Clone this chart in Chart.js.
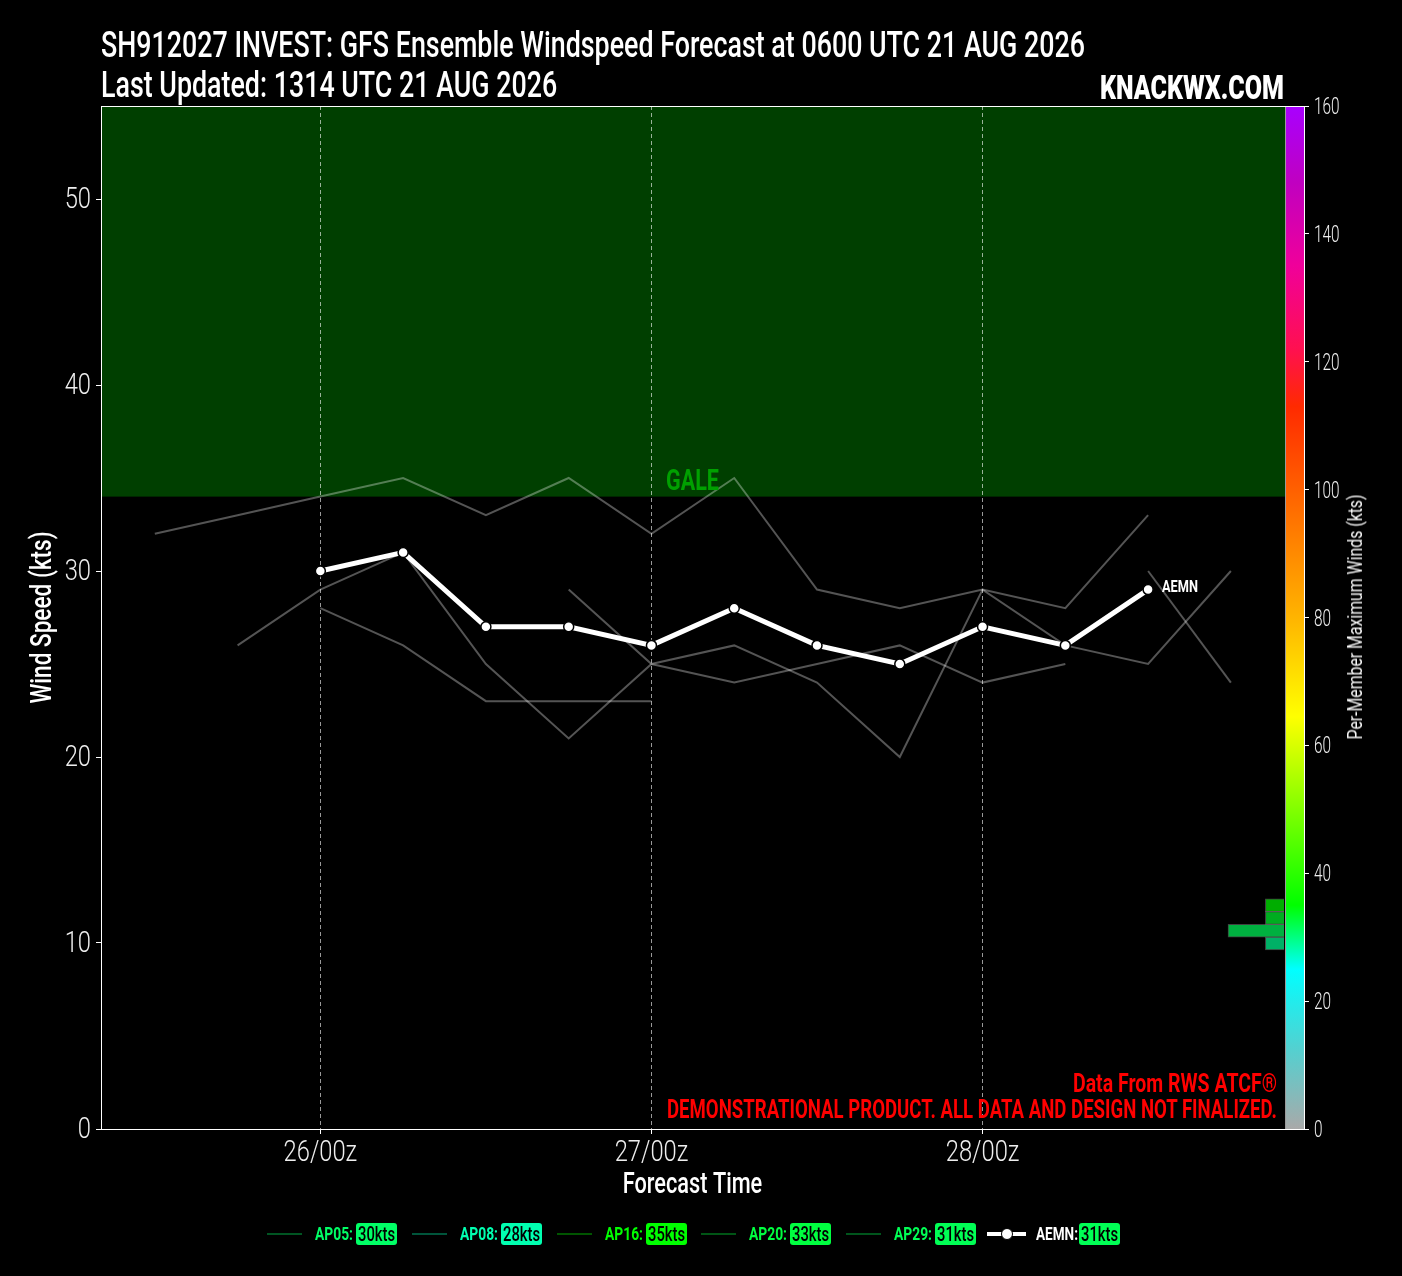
<!DOCTYPE html>
<html><head><meta charset="utf-8">
<script src="https://cdn.jsdelivr.net/npm/chart.js@4/dist/chart.umd.min.js"></script>
<style>
html,body{margin:0;padding:0;background:#000;width:1402px;height:1276px;overflow:hidden}
#wrap{position:relative;width:1402px;height:1276px}
canvas{position:absolute;left:0;top:0}
.t{position:absolute;white-space:nowrap;font-family:Roboto,sans-serif;line-height:1;transform-origin:0 50%}
#legend{position:absolute;left:0;top:1223px;width:1402px;height:22px}
.li{position:absolute;top:0;height:22px}
.sw{position:absolute;top:10px;height:2px}
.dot{position:absolute;top:5px;width:10px;height:10px;border-radius:50%;background:#fff;border:1px solid #000;box-sizing:content-box}
.nm{position:absolute;top:2px;font:bold 18px/18px Roboto,sans-serif;white-space:nowrap;transform-origin:0 50%}
.bd{position:absolute;top:0;height:22px;border-radius:3px}
.bd span{position:absolute;left:0;top:1px;font:500 20px/20px Roboto,sans-serif;color:#000;white-space:nowrap;transform-origin:0 50%}
</style></head><body>
<div id="wrap"><canvas id="c" width="1402" height="1276"></canvas>
<div class="t f" data-w="184" style="left:1100px;top:70px;font-size:34px;font-weight:900;color:#fff;">KNACKWX.COM</div>
<div class="t f" data-w="53" style="left:666px;top:465px;font-size:30px;font-weight:bold;color:#00a000;">GALE</div>
<div class="t f" data-w="36" style="left:1162px;top:578px;font-size:17px;font-weight:bold;color:#fff;">AEMN</div>
<div class="t f" data-w="204" style="left:1073px;top:1070px;font-size:26px;font-weight:bold;color:#f00;">Data From RWS ATCF®</div>
<div class="t f" data-w="610" style="left:667px;top:1096px;font-size:26px;font-weight:bold;color:#f00;">DEMONSTRATIONAL PRODUCT. ALL DATA AND DESIGN NOT FINALIZED.</div>
<div class="t r" data-w="245" style="left:1355px;top:617px;font-size:20px;color:#f6f6f6;">Per-Member Maximum Winds (kts)</div>
<div id="legend"></div></div>
<script>
// hours after 26/00z
const hoursAP16=[-12,-6,0,6,12,18,24,30,36,42,48,54,60];
const windAP16=[32,33,34,35,33,35,32,35,29,28,29,28,33];
const hoursAP29=[-6,0,6,12,18,24,30,36,42,48,54,60,66];
const windAP29=[26,29,31,25,21,25,26,24,20,29,26,25,30];
const hoursAP08=[0,6,12,18,24];
const windAP08=[28,26,23,23,23];
const hoursAP20=[18,24,30,36,42,48,54];
const windAP20=[29,25,24,25,26,24,25];
const hoursAP05=[60,66];
const windAP05=[30,24];
const hoursAEMN=[0,6,12,18,24,30,36,42,48,54,60];
const windAEMN=[30,31,27,27,26,28,26,25,27,26,29];
const xTickHours=[0,24,48];
const xTickLabels=['26/00z','27/00z','28/00z'];
const yTicks=[0,10,20,30,40,50];
const galeWind=34;
const cbTicks=[0,20,40,60,80,100,120,140,160];
const cbStopValues=[0,13,25,35,64.5,80,100,113,122,135,148,160];
const cbStopColors=['#a9a9a9','#50d2d2','#00ffff','#00ff00','#ffff00','#ffb400','#ff6000','#ff2a00','#ff1050','#f0009a','#c000c0','#a800ff'];
const histBinCenters=[35,33,31,29];
const histCounts=[1,1,3,1];
const histColors=['#00ad00','#00ad20','#00b040','#00b066'];
const legendNames=['AP05','AP08','AP16','AP20','AP29','AEMN'];
const legendMax=[30,28,35,33,31,31];
const legendColors=['#00ff66','#00ffb0','#00ff00','#00ff40','#00ff55','#00ff55'];
const legendLeft=[267,412,557,700.5,845.5,987];

const ff='Roboto,sans-serif';
// Roboto is wider than the condensed face of the reference: narrow each drawn text.
const squeezeBySize={36:.745,30:.79,24:.64};
const squeezeByText={'Forecast Time':.725,'Wind Speed (kts)':.753};
const cv=document.getElementById('c');
const ctx0=cv.getContext('2d');
const rawFill=ctx0.fillText.bind(ctx0);
ctx0.fillText=function(t,x,y,m){
  const sz=parseFloat((ctx0.font.match(/([\d.]+)px/)||[])[1]);
  const k=squeezeByText[t]||squeezeBySize[sz]||1;
  if(t==='Forecast Time')x-=10;
  if(sz===30&&ctx0.textAlign==='right')y+=1;
  if(sz===24)y+=2;
  rawFill(t,x,y,ctx0.measureText(t).width*k);
};
const toXY=(h,w)=>h.map((x,i)=>({x,y:w[i]}));
const grey={type:'line',borderColor:'rgba(255,255,255,.33)',borderWidth:2,pointRadius:0,tension:0,fill:false,order:5};
const frame={id:'frame',beforeDraw(ch){
  const s=ch.scales.y1,a=ch.chartArea,ctx=ch.ctx,xs=ch.scales.x,ys=ch.scales.y;
  const edge=Math.round(xs.getPixelForValue(xs.options.plotEnd));
  const g=ctx.createLinearGradient(0,s.bottom,0,s.top);
  cbStopValues.forEach((v,i)=>g.addColorStop(v/160,cbStopColors[i]));
  ctx.save();
  ctx.fillStyle='#003f00';
  const yg=ys.getPixelForValue(galeWind);
  ctx.fillRect(a.left,a.top,edge-a.left,yg-a.top);
  ctx.fillStyle=g;ctx.fillRect(edge,s.top,a.right-edge,s.bottom-s.top);
  ctx.fillStyle='#999';ctx.fillRect(edge,a.top,1,a.bottom-a.top);
  ctx.fillStyle='#fff';ctx.fillRect(a.left,a.top,a.right-a.left,1);
  ctx.restore();
}};
new Chart(cv,{
  type:'line',
  data:{datasets:[
    {...grey,label:'AP16',data:toXY(hoursAP16,windAP16)},
    {...grey,label:'AP29',data:toXY(hoursAP29,windAP29)},
    {...grey,label:'AP08',data:toXY(hoursAP08,windAP08)},
    {...grey,label:'AP20',data:toXY(hoursAP20,windAP20)},
    {...grey,label:'AP05',data:toXY(hoursAP05,windAP05)},
    {type:'line',label:'AEMN',data:toXY(hoursAEMN,windAEMN),borderColor:'#fff',borderWidth:5,pointRadius:5,pointBackgroundColor:'#fff',pointBorderColor:'#000',pointBorderWidth:1.5,tension:0,fill:false,order:1},
    {type:'bar',label:'hist',indexAxis:'y',xAxisID:'xh',yAxisID:'y1',data:histBinCenters.map((b,i)=>({x:histCounts[i],y:b})),backgroundColor:histColors,borderColor:'rgba(255,255,255,.25)',borderWidth:1,grouped:false,categoryPercentage:1,barPercentage:1,order:3}
  ]},
  options:{
    responsive:false,animation:false,devicePixelRatio:1,
    layout:{padding:{left:25,right:0,top:0,bottom:73}},
    plugins:{legend:{display:false},tooltip:{enabled:false},
      title:{display:true,text:['SH912027 INVEST: GFS Ensemble Windspeed Forecast at 0600 UTC 21 AUG 2026','Last Updated: 1314 UTC 21 AUG 2026'],align:'start',fullSize:false,color:'#fff',font:{family:ff,size:36,weight:500,lineHeight:40/36},padding:{top:28,bottom:-2}}},
    scales:{
      x:{type:'linear',min:-15.9,max:71.3,plotEnd:69.92,position:'bottom',
        afterBuildTicks(s){s.ticks=xTickHours.map(v=>({value:v}));},
        afterFit(s){s.height=74;},
        ticks:{color:'#eee',font:{family:ff,size:30,weight:300},padding:1,maxRotation:0,callback:(v)=>xTickLabels[xTickHours.indexOf(v)]},
        grid:{color:'rgba(255,255,255,.6)',lineWidth:1,tickLength:5,tickColor:'#fff'},
        border:{color:'#fff',width:1,dash:[4,3]},
        title:{display:true,text:'Forecast Time',color:'#fff',font:{family:ff,size:30,weight:500},padding:{top:0,bottom:0}}},
      xh:{type:'linear',display:false,reverse:true,min:-1.07,max:63.36},
      y:{type:'linear',position:'left',min:0,max:55,
        afterBuildTicks(s){s.ticks=yTicks.map(v=>({value:v}));},
        afterFit(s){s.width=76;},
        ticks:{color:'#eee',font:{family:ff,size:30,weight:300},padding:5},
        grid:{drawOnChartArea:false,tickLength:5,tickColor:'#fff'},border:{color:'#fff',width:1},
        title:{display:true,text:'Wind Speed (kts)',color:'#fff',font:{family:ff,size:30,weight:500},padding:{top:0,bottom:0}}},
      y1:{type:'linear',position:'right',min:0,max:160,offset:false,
        afterBuildTicks(s){s.ticks=cbTicks.map(v=>({value:v}));},
        afterFit(s){s.width=98;},
        ticks:{color:'#eee',font:{family:ff,size:24,weight:300},padding:5},
        grid:{drawOnChartArea:false,offset:false,tickLength:5,tickColor:'#fff'},border:{color:'#fff',width:1}}
    }
  },
  plugins:[frame]
});
const L=document.getElementById('legend');
const fitX=(el,w,prefix='')=>{const n=el.getBoundingClientRect().width;el.style.transform=prefix+'scaleX('+(w/n)+')';};
function build(){
  legendNames.forEach((n,i)=>{
    const em=n==='AEMN';
    const d=document.createElement('div');d.className='li';d.style.left=legendLeft[i]+'px';
    const sw=document.createElement('div');sw.className='sw';
    sw.style.width=(em?39:35)+'px';
    if(em){sw.style.height='4px';sw.style.top='9px';sw.style.background='#fff';}
    else sw.style.background=legendColors[i]+'55';
    d.append(sw);
    if(em){const dot=document.createElement('div');dot.className='dot';dot.style.left='14px';d.append(dot);}
    const nm=document.createElement('span');nm.className='nm';nm.textContent=n+':';nm.style.color=em?'#fff':legendColors[i];nm.style.left=(em?49:48)+'px';
    const bd=document.createElement('div');bd.className='bd';bd.style.left=(em?92:89)+'px';bd.style.width='41px';bd.style.background=legendColors[i];
    const sp=document.createElement('span');sp.textContent=legendMax[i]+'kts';bd.append(sp);
    d.append(nm,bd);L.append(d);
    fitX(nm,em?42:38);
    fitX(sp,37,'translateX(2px) ');
  });
  document.querySelectorAll('.t.f').forEach(el=>fitX(el,+el.dataset.w));
  document.querySelectorAll('.t.r').forEach(el=>{const n=el.getBoundingClientRect().width;el.style.transformOrigin='50% 50%';el.style.transform='translate(-50%,-50%) rotate(-90deg) scaleX('+(+el.dataset.w/n)+')';});
}
build();
</script></body></html>
